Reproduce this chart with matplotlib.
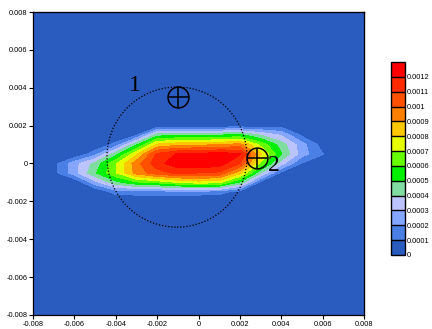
import numpy as np
import matplotlib
matplotlib.use("Agg")
import matplotlib.pyplot as plt
from matplotlib.patches import Ellipse

plt.rcParams['font.family'] = ['Liberation Sans', 'DejaVu Sans']

# grid nodes
x = np.linspace(-0.008, 0.008, 17)
y = np.linspace(-0.008, 0.008, 33)

# values (x 1e-4), rows y = 0.002 ... -0.0015, cols x = -0.007 ... 0.007
row_p0020 = [0, 0, 0, 0, 0, 0.3, 0.3, 0.3, 0.3, 0.3, 0.4, 0.6, 0, 0, 0]
row_p0015 = [0, 0, 0, 0, 0.9, 4.6, 4.9, 5.0, 5.0, 5.3, 4.0, 2.9, 0.8, 0, 0]
row_p0010 = [0, 0, 0, 1.35, 4.8, 8.2, 8.7, 8.8, 8.9, 9.4, 6.7, 4.5, 2.4, 0.5, 0]
row_p0005 = [0, 0, 1.66, 4.6, 7.8, 11.2, 12.1, 12.2, 12.6, 12.1, 8.2, 5.1, 2.45, 1.05, 0]
row_0000 = [0.6, 2.6, 4.3, 6.85, 9.6, 11.6, 12.7, 12.9, 12.5, 11.0, 6.7, 3.4, 0.9, 0.4, 0]
row_m0005 = [0.6, 2.6, 4.85, 6.9, 9.4, 10.6, 11.2, 11.0, 10.8, 8.3, 4.1, 0.7, 0, 0, 0]
row_m0010 = [0, 0, 2.6, 4.65, 5.8, 6.2, 7.0, 7.5, 7.2, 4.8, 0.64, 0, 0, 0, 0]
row_m0015 = [0, 0, 0, 1.43, 1.5, 1.5, 1.6, 1.5, 1.4, 0.57, 0, 0, 0, 0, 0]

block = np.array([row_m0015, row_m0010, row_m0005, row_0000,
                  row_p0005, row_p0010, row_p0015, row_p0020]) * 1e-4
z = np.zeros((len(y), len(x)))
z[13:21, 1:16] = block

levels = np.linspace(0, 0.0013, 14)
colors = ['#2a5bbf', '#4a80e6', '#85a6ff', '#bcc4ff', '#80dca0', '#00f000',
          '#66ff00', '#e6ff00', '#ffc800', '#ff8000', '#ff5000', '#ff2a00', '#ff0000']
cb_labels = ['0', '0.0001', '0.0002', '0.0003', '0.0004', '0.0005', '0.0006',
             '0.0007', '0.0008', '0.0009', '0.001', '0.0011', '0.0012']

ticks = np.linspace(-0.008, 0.008, 9)
tick_labels = ['-0.008', '-0.006', '-0.004', '-0.002', '0', '0.002', '0.004', '0.006', '0.008']

# marked points and the dotted circle
pts_x = [-0.001, 0.00284]
pts_y = [0.0035, 0.00027]
pt_names = ['1', '2']
name_x = [-0.00307, 0.00365]
name_y = [0.0041, -0.0001]
circ_center = (-0.00104, 0.00034)
circ_w, circ_h = 0.00677, 0.0074

fig = plt.figure(figsize=(4.32, 3.29), dpi=100)
ax = fig.add_axes([0.0764, 0.0426, 0.7662, 0.9209])
ax.set_facecolor(colors[0])

cs = ax.contourf(x, y, z, levels=levels, colors=colors)

ax.add_patch(Ellipse(circ_center, circ_w, circ_h, fill=False, color='black',
                     lw=0.9, linestyle=(0, (1, 1.5))))
ax.plot(pts_x, pts_y, 'o', ms=15, mfc='none', mec='black', mew=1.1)
ax.plot(pts_x, pts_y, '+', ms=15, mec='black', mew=1.1)
for nx, ny, t in zip(name_x, name_y, pt_names):
    ax.text(nx, ny, t, fontsize=17, family='Liberation Serif', ha='center', va='center')

ax.set_xlim(-0.008, 0.008)
ax.set_ylim(-0.008, 0.008)
ax.set_xticks(ticks)
ax.set_xticklabels(tick_labels)
ax.set_yticks(ticks)
ax.set_yticklabels(tick_labels)
ax.tick_params(direction='out', length=3, width=0.8, labelsize=5.3, pad=1)
for s in ax.spines.values():
    s.set_linewidth(0.9)

top = ax.secondary_xaxis('top')
top.set_xticks(ticks)
top.set_xticklabels([])
top.tick_params(direction='in', length=3, width=0.8)
right = ax.secondary_yaxis('right')
right.set_yticks(ticks)
right.set_yticklabels([])
right.tick_params(direction='in', length=3, width=0.8)

cax = fig.add_axes([0.905, 0.225, 0.0325, 0.5865])
cb = fig.colorbar(cs, cax=cax, drawedges=True)
cb.set_ticks(levels[:-1])
cb.set_ticklabels(cb_labels)
cb.ax.tick_params(length=0, labelsize=5.3, pad=1)
cb.outline.set_linewidth(1)
cb.dividers.set_color('black')
cb.dividers.set_linewidth(1)

fig.savefig('out.png', dpi=100)
